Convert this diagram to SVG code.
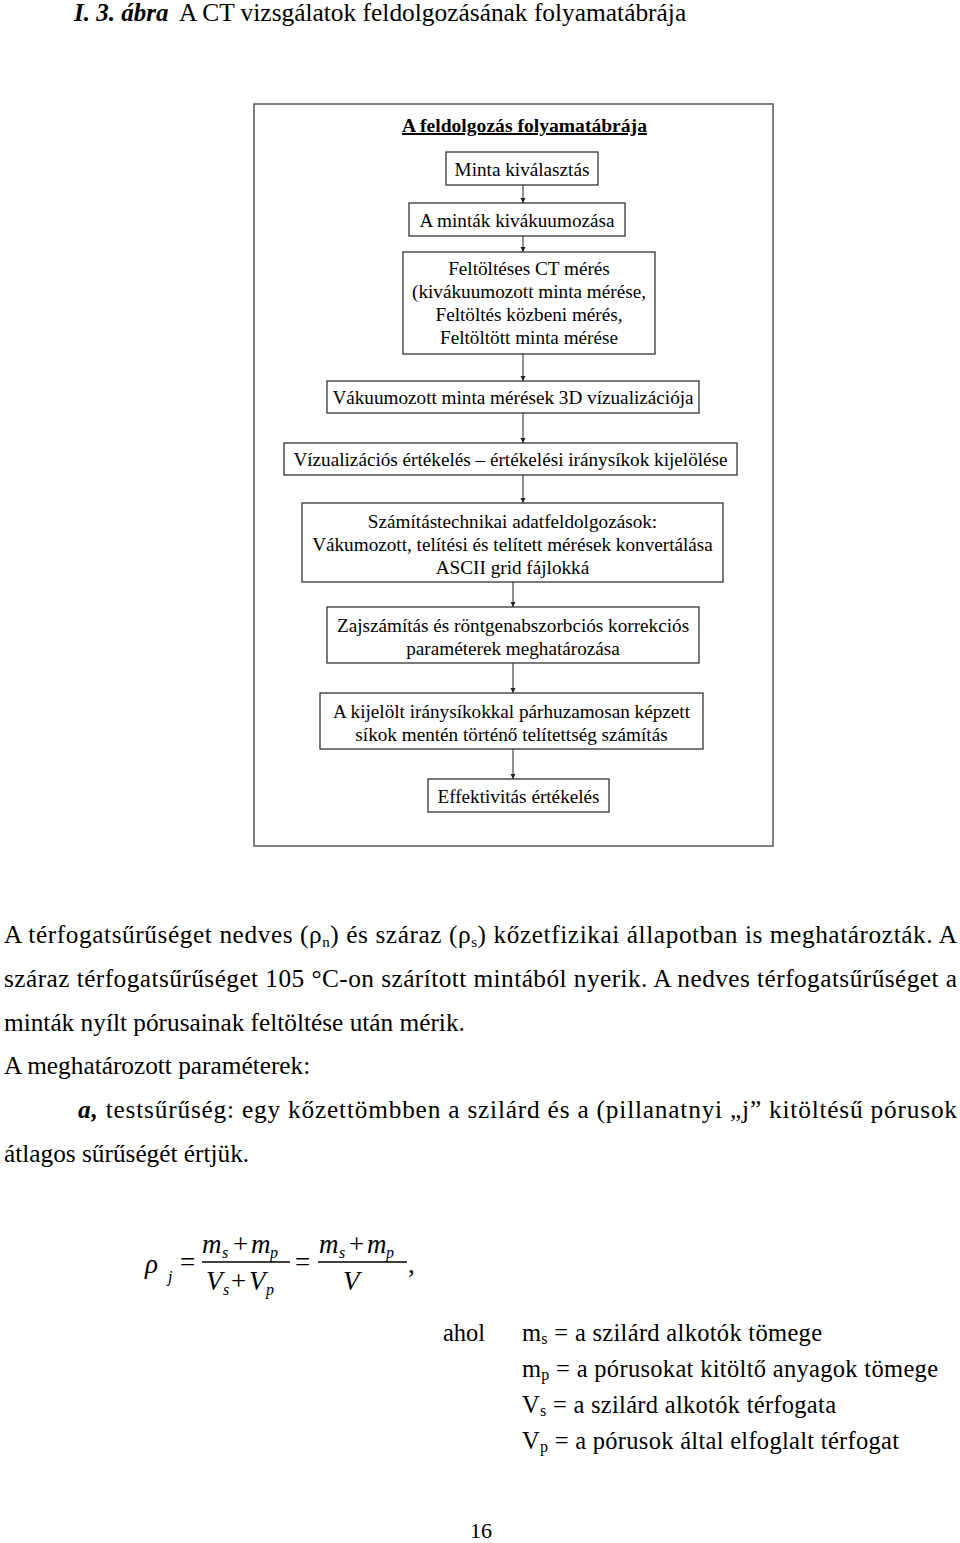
<svg xmlns="http://www.w3.org/2000/svg" width="960" height="1543" viewBox="0 0 960 1543">
<style>
.t{font-family:"Liberation Serif","Times New Roman",serif;fill:#000}
.fc{font-size:19.2px;text-anchor:middle}
.box{fill:#fff;stroke:#333;stroke-width:1.3}
.conn line{stroke:#222;stroke-width:1;marker-end:url(#ah)}
.p{font-size:25.3px}
.f{font-size:27px;font-style:italic}
.fs{font-size:16px;font-style:italic}
.op{font-size:27px}
.d{font-size:24.5px}
</style>
<defs>
<marker id="ah" markerUnits="userSpaceOnUse" markerWidth="6" markerHeight="6" refX="5" refY="3" orient="auto">
<path d="M0,0.5 L5,3 L0,5.5 Z" fill="#222"/>
</marker>
</defs>
<rect width="960" height="1543" fill="#fff"/>

<text class="t" x="74" y="21" font-size="25" font-weight="bold" font-style="italic">I. 3. ábra</text>
<text class="t" x="179" y="21" font-size="25.4">A CT vizsgálatok feldolgozásának folyamatábrája</text>

<rect id="frame" x="254" y="104" width="519" height="742" fill="none" stroke="#555" stroke-width="1.5"/>
<text class="t" x="524.5" y="132" font-size="19.6" font-weight="bold" text-anchor="middle" text-decoration="underline">A feldolgozás folyamatábrája</text>

<g class="conn">
<line x1="523" y1="185" x2="523" y2="203"/>
<line x1="523" y1="236" x2="523" y2="252"/>
<line x1="523" y1="354" x2="523" y2="381"/>
<line x1="523" y1="413" x2="523" y2="443"/>
<line x1="523" y1="475" x2="523" y2="503"/>
<line x1="513" y1="582" x2="513" y2="607"/>
<line x1="513" y1="663" x2="513" y2="693"/>
<line x1="513" y1="749" x2="513" y2="779"/>
</g>

<g id="n1"><rect class="box" x="446" y="152" width="152" height="33"/><text class="t fc" x="522" y="176">Minta kiválasztás</text></g>
<g id="n2"><rect class="box" x="409" y="203" width="216" height="33"/><text class="t fc" x="517" y="227">A minták kivákuumozása</text></g>
<g id="n3"><rect class="box" x="403" y="252" width="252" height="102"/>
<text class="t fc" x="529" y="275">Feltöltéses CT mérés</text>
<text class="t fc" x="529" y="298">(kivákuumozott minta mérése,</text>
<text class="t fc" x="529" y="321">Feltöltés közbeni mérés,</text>
<text class="t fc" x="529" y="344">Feltöltött minta mérése</text></g>
<g id="n4"><rect class="box" x="327" y="381" width="372" height="32"/><text class="t fc" x="513" y="404">Vákuumozott minta mérések 3D vízualizációja</text></g>
<g id="n5"><rect class="box" x="284" y="443" width="453" height="32"/><text class="t fc" x="510.5" y="466">Vízualizációs értékelés – értékelési iránysíkok kijelölése</text></g>
<g id="n6"><rect class="box" x="302" y="503" width="421" height="79"/>
<text class="t fc" x="512.5" y="528">Számítástechnikai adatfeldolgozások:</text>
<text class="t fc" x="512.5" y="551">Vákumozott, telítési és telített mérések konvertálása</text>
<text class="t fc" x="512.5" y="574">ASCII grid fájlokká</text></g>
<g id="n7"><rect class="box" x="327" y="607" width="372" height="56"/>
<text class="t fc" x="513" y="632">Zajszámítás és röntgenabszorbciós korrekciós</text>
<text class="t fc" x="513" y="655">paraméterek meghatározása</text></g>
<g id="n8"><rect class="box" x="320" y="693" width="383" height="56"/>
<text class="t fc" x="511.5" y="718">A kijelölt iránysíkokkal párhuzamosan képzett</text>
<text class="t fc" x="511.5" y="741">síkok mentén történő telítettség számítás</text></g>
<g id="n9"><rect class="box" x="428" y="779" width="181" height="33"/><text class="t fc" x="518.5" y="803">Effektivitás értékelés</text></g>

<text class="t p" x="4" y="943" textLength="953" lengthAdjust="spacing">A térfogatsűrűséget nedves (ρ<tspan font-size="15" dy="4">n</tspan><tspan dy="-4">) és száraz (ρ</tspan><tspan font-size="15" dy="4">s</tspan><tspan dy="-4">) kőzetfizikai állapotban is meghatározták. A</tspan></text>
<text class="t p" x="4" y="987" textLength="953" lengthAdjust="spacing">száraz térfogatsűrűséget 105 °C-on szárított mintából nyerik. A nedves térfogatsűrűséget a</text>
<text class="t p" x="4" y="1031">minták nyílt pórusainak feltöltése után mérik.</text>
<text class="t p" x="4" y="1074">A meghatározott paraméterek:</text>
<text class="t p" x="78" y="1118" textLength="879" lengthAdjust="spacing"><tspan font-weight="bold" font-style="italic">a,</tspan> testsűrűség: egy kőzettömbben a szilárd és a (pillanatnyi „j” kitöltésű pórusok</text>
<text class="t p" x="4" y="1162">átlagos sűrűségét értjük.</text>

<g id="formula">
<text class="t f" x="145" y="1273" font-size="30">ρ</text>
<text class="t fs" x="168" y="1282">j</text>
<text class="t op" x="180" y="1271">=</text>
<line x1="202" y1="1262" x2="290" y2="1262" stroke="#000" stroke-width="1.3"/>
<text class="t f" x="202" y="1253">m</text>
<text class="t fs" x="222" y="1258">s</text>
<text class="t op" x="233" y="1253">+</text>
<text class="t f" x="251" y="1253">m</text>
<text class="t fs" x="270" y="1258">p</text>
<text class="t f" x="206" y="1290">V</text>
<text class="t fs" x="223" y="1295">s</text>
<text class="t op" x="231" y="1290">+</text>
<text class="t f" x="249" y="1290">V</text>
<text class="t fs" x="266" y="1295">p</text>
<text class="t op" x="295" y="1271">=</text>
<line x1="318" y1="1262" x2="407" y2="1262" stroke="#000" stroke-width="1.3"/>
<text class="t f" x="319" y="1253">m</text>
<text class="t fs" x="339" y="1258">s</text>
<text class="t op" x="349" y="1253">+</text>
<text class="t f" x="367" y="1253">m</text>
<text class="t fs" x="386" y="1258">p</text>
<text class="t f" x="343" y="1290">V</text>
<text class="t op" x="408" y="1273">,</text>
</g>

<text class="t d" x="443" y="1341">ahol</text>
<text class="t d" x="522" y="1341" textLength="300" lengthAdjust="spacing">m<tspan font-size="16" dy="3">s</tspan><tspan dy="-3"> = a szilárd alkotók tömege</tspan></text>
<text class="t d" x="522" y="1377" textLength="416" lengthAdjust="spacing">m<tspan font-size="16" dy="3">p</tspan><tspan dy="-3"> = a pórusokat kitöltő anyagok tömege</tspan></text>
<text class="t d" x="522" y="1413" textLength="314" lengthAdjust="spacing">V<tspan font-size="16" dy="3">s</tspan><tspan dy="-3"> = a szilárd alkotók térfogata</tspan></text>
<text class="t d" x="522" y="1449" textLength="377" lengthAdjust="spacing">V<tspan font-size="16" dy="3">p</tspan><tspan dy="-3"> = a pórusok által elfoglalt térfogat</tspan></text>

<text class="t" font-size="22" x="470" y="1538">16</text>
</svg>
